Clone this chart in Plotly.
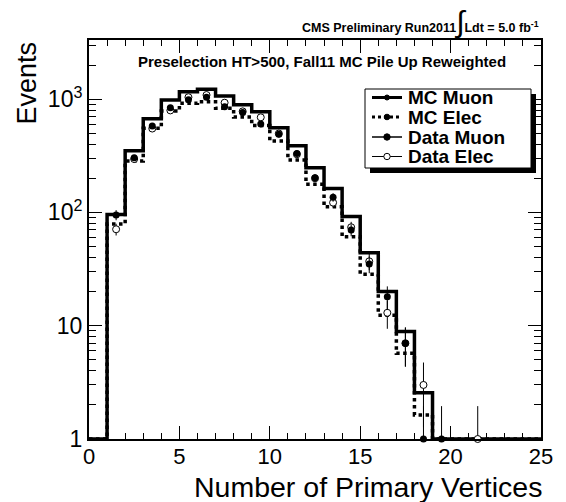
import math
import plotly.graph_objects as go

# ---------------- data ----------------
bin_edges = list(range(0, 26))  # Number of primary vertices, unit-width bins 0..25
mc_muon = [0, 96, 351, 671, 982, 1162, 1220, 1065, 893, 775, 559, 388, 248, 163,
           92, 44, 20, 8.9, 2.56, 0, 0, 0, 0, 0, 0]
mc_elec = [0, 79, 284, 553, 785, 918, 948, 829, 695, 585, 427, 290, 177, 112,
           61, 28.5, 12.4, 5.7, 1.63, 0, 0, 0, 0, 0, 0]

data_muon_x = [1.5, 2.5, 3.5, 4.5, 5.5, 6.5, 7.5, 8.5, 9.5, 10.5, 11.5, 12.5, 13.5,
               14.5, 15.5, 16.5, 17.5, 18.5, 19.5]
data_muon = [95, 304, 580, 840, 990, 1040, 857, 762, 603, 489, 332, 202, 136,
             70, 35, 18, 7, 0, 0]
data_elec_x = [1.5, 2.5, 3.5, 4.5, 5.5, 6.5, 7.5, 8.5, 9.5, 10.5, 11.5, 12.5, 13.5,
               14.5, 15.5, 16.5, 17.5, 18.5, 21.5]
data_elec = [71, 296, 550, 795, 1040, 1087, 930, 780, 691, 497, 326, 200, 122,
             74, 37, 13, 7, 3, 0]
zero_bin_upper = 1.95  # upper end of error bar drawn for empty data bins

y_tickvals = [1, 10, 100, 1000]
y_ticktext = ["1", "10", "10<sup>2</sup>", "10<sup>3</sup>"]
x_tickvals = [0, 5, 10, 15, 20, 25]

FLOOR = 1.0
FONT = "Liberation Sans, Arial, Helvetica, sans-serif"

# ---------------- layout geometry helpers ----------------
W, H = 566, 502
L, R, T, B = 89, 25, 40, 63
PW, PH = W - L - R, H - T - B


def px(x):
    return (x - L) / PW


def py(y):
    return (H - B - y) / PH


def hist_xy(vals):
    xs = list(bin_edges)
    ys = [max(v, FLOOR) for v in vals] + [max(vals[-1], FLOOR)]
    return xs, ys


def data_errors(vals):
    ys, up, dn = [], [], []
    for v in vals:
        if v > 0:
            ys.append(v)
            up.append(math.sqrt(v))
            dn.append(math.sqrt(v))
        else:
            ys.append(FLOOR)
            up.append(zero_bin_upper - FLOOR)
            dn.append(0)
    return ys, up, dn


fig = go.Figure()

hx, hy = hist_xy(mc_elec)
fig.add_trace(go.Scatter(x=hx, y=hy, mode="lines", line_shape="hv",
                         line=dict(color="black", width=3.5, dash="dot"),
                         name="MC Elec", showlegend=False))
hx, hy = hist_xy(mc_muon)
fig.add_trace(go.Scatter(x=hx, y=hy, mode="lines", line_shape="hv",
                         line=dict(color="black", width=3.5),
                         name="MC Muon", showlegend=False))

ey, eu, ed = data_errors(data_elec)
fig.add_trace(go.Scatter(x=data_elec_x, y=ey, mode="markers", cliponaxis=False,
                         marker=dict(symbol="circle", size=7, color="white",
                                     line=dict(color="black", width=1)),
                         error_y=dict(type="data", symmetric=False, array=eu, arrayminus=ed,
                                      color="black", thickness=1, width=0),
                         name="Data Elec", showlegend=False))
my, mu, md = data_errors(data_muon)
fig.add_trace(go.Scatter(x=data_muon_x, y=my, mode="markers", cliponaxis=False,
                         marker=dict(symbol="circle", size=7, color="black"),
                         error_y=dict(type="data", symmetric=False, array=mu, arrayminus=md,
                                      color="black", thickness=1, width=0),
                         name="Data Muon", showlegend=False))

y_minor = [m * 10 ** d for d in range(0, 4) for m in range(2, 10) if m * 10 ** d < 3400]

fig.update_xaxes(range=[0, 25], tickvals=x_tickvals, ticks="inside", ticklen=13,
                 tickwidth=1, tickcolor="black", showline=True, linewidth=2,
                 linecolor="black", mirror="ticks", showgrid=False, zeroline=False,
                 ticklabelstandoff=-3,
                 tickfont=dict(family=FONT, size=22, color="black"),
                 minor=dict(dtick=1, ticks="inside", ticklen=6, tickcolor="black",
                            tickwidth=1, showgrid=False))
fig.update_yaxes(type="log", range=[0, 3.522], tickvals=y_tickvals, ticktext=y_ticktext,
                 ticks="inside", ticklen=13, tickwidth=1, tickcolor="black",
                 showline=True, linewidth=2, linecolor="black", mirror="ticks",
                 showgrid=False, zeroline=False,
                 tickfont=dict(family=FONT, size=23, color="black"),
                 minor=dict(tickvals=y_minor, ticks="inside", ticklen=7,
                            tickcolor="black", tickwidth=1, showgrid=False))

shapes = []
annotations = []

# legend (drawn manually to match the ROOT-style box with shadow)
shapes.append(dict(type="rect", xref="paper", yref="paper",
                   x0=px(370), x1=px(536), y0=py(173), y1=py(94),
                   fillcolor="black", line=dict(width=0)))
shapes.append(dict(type="rect", xref="paper", yref="paper",
                   x0=px(365), x1=px(531), y0=py(168), y1=py(89),
                   fillcolor="white", line=dict(color="black", width=1)))
rows = [
    ("MC Muon", 97.5, dict(width=3, dash="solid"), 2.5, "black"),
    ("MC Elec", 117, dict(width=3, dash="dot"), 2.8, "black"),
    ("Data Muon", 137, dict(width=1.5, dash="solid"), 3.2, "black"),
    ("Data Elec", 156.5, dict(width=1, dash="solid"), 3.2, "white"),
]
for label, yy, ln, r, fill in rows:
    shapes.append(dict(type="line", xref="paper", yref="paper",
                       x0=px(372), x1=px(402), y0=py(yy), y1=py(yy),
                       line=dict(color="black", **ln)))
    shapes.append(dict(type="circle", xref="paper", yref="paper",
                       x0=px(387 - r), x1=px(387 + r), y0=py(yy + r), y1=py(yy - r),
                       fillcolor=fill, line=dict(color="black", width=1)))
    annotations.append(dict(xref="paper", yref="paper", x=px(406), y=py(yy),
                            xanchor="left", yanchor="middle", showarrow=False,
                            text="<b>" + label + "</b>",
                            font=dict(family=FONT, size=19, color="black")))

# header texts
annotations.append(dict(xref="paper", yref="paper", x=px(541), y=py(22),
                        xanchor="right", yanchor="middle", showarrow=False,
                        text="<b>CMS Preliminary Run2011</b><span style='font-size:30px'>∫</span><b>Ldt = 5.0 fb<sup>-1</sup></b>",
                        font=dict(family=FONT, size=12.5, color="black")))
annotations.append(dict(xref="paper", yref="paper", x=px(322), y=py(61.5),
                        xanchor="center", yanchor="middle", showarrow=False,
                        text="<b>Preselection HT>500, Fall11 MC Pile Up Reweighted</b>",
                        font=dict(family=FONT, size=15, color="black")))
# axis titles
annotations.append(dict(xref="paper", yref="paper", x=px(26), y=py(40),
                        xanchor="center", yanchor="top", textangle=-90, showarrow=False,
                        text="Events", font=dict(family=FONT, size=27, color="black")))
annotations.append(dict(xref="paper", yref="paper", x=px(544), y=py(487),
                        xanchor="right", yanchor="middle", showarrow=False,
                        text="Number of Primary Vertices",
                        font=dict(family=FONT, size=28.5, color="black")))

fig.update_layout(width=W, height=H, margin=dict(l=L, r=R, t=T, b=B),
                  paper_bgcolor="white", plot_bgcolor="white", showlegend=False,
                  shapes=shapes, annotations=annotations,
                  font=dict(family=FONT, color="black"))

fig.write_html("out.html", config={"displayModeBar": False},
               post_script="document.body.style.margin='0';document.body.style.overflow='hidden';")
